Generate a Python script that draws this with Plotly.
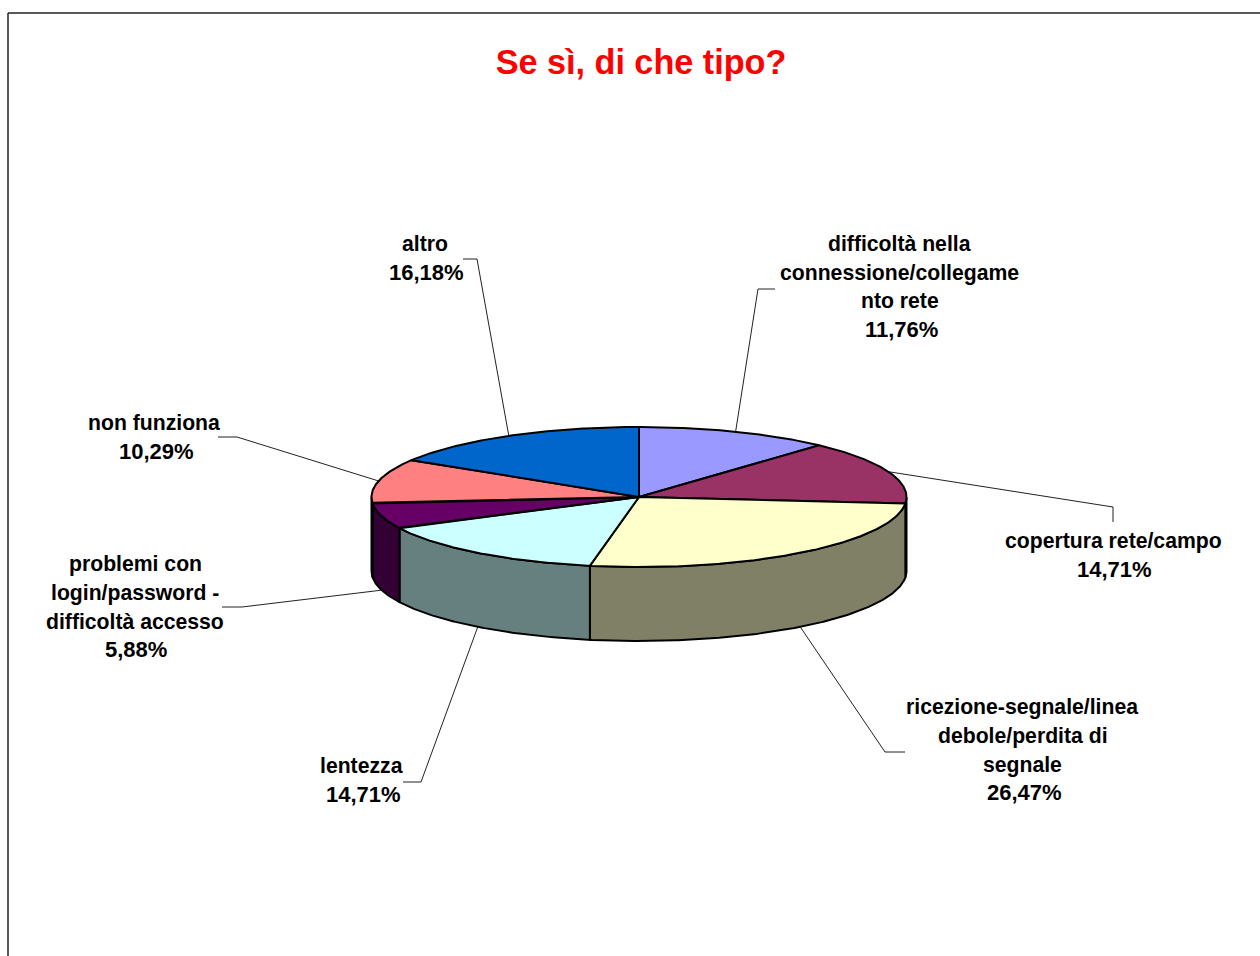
import math
import plotly.graph_objects as go

# --- data ---
title_text = "Se sì, di che tipo?"
categories = [
    ["difficoltà nella", "connessione/collegame", "nto rete"],
    ["copertura rete/campo"],
    ["ricezione-segnale/linea", "debole/perdita di", "segnale"],
    ["lentezza"],
    ["problemi con", "login/password -", "difficoltà accesso"],
    ["non funziona"],
    ["altro"],
]
values = [11.76, 14.71, 26.47, 14.71, 5.88, 10.29, 16.18]
top_colors = ["#9999FF", "#993366", "#FFFFCC", "#CCFFFF", "#660066", "#FF8080", "#0066CC"]
side_colors = ["#4D4D80", "#4D1A33", "#808066", "#668080", "#330033", "#804040", "#003366"]

# --- layout geometry (pixels) ---
W, H = 1260, 956
CX, CY, RX, RY, DEPTH = 639, 497, 267.5, 70, 74
FONT = "Liberation Sans, Arial, sans-serif"
# centre of each text line: (x per line, y per line, x of percent, y of percent)
label_pos = [
    ([899, 899, 900], [243.5, 272.5, 300.5], 901.5, 329.5),
    ([1113], [540.5], 1114.5, 569.5),
    ([1022, 1023, 1022], [706.5, 735.5, 764.5], 1024.5, 792.5),
    ([361], [765.5], 363.5, 794.5),
    ([135, 135, 134.5], [563.5, 592.5, 621.5], 135.5, 649.5),
    ([154], [422.5], 156.5, 451.5),
    ([425], [243.5], 426.5, 272.5),
]
# leader-line elbows: label end, elbow
leader_elbows = [
    ((775, 289), (758, 289)),
    ((1113, 522), (1113, 507)),
    ((905, 752), (885, 752)),
    ((403, 782), (421, 782)),
    ((222, 607), (242, 607)),
    ((218, 437), (237, 437)),
    ((463, 259), (477, 259)),
]


def pt(theta, drop=0):
    a = math.radians(theta)
    return CX + RX * math.sin(a), CY - RY * math.cos(a) + drop


def arc(t0, t1, drop=0):
    n = max(2, int(abs(t1 - t0) * 2))
    return [pt(t0 + (t1 - t0) * i / n, drop) for i in range(n + 1)]


total = sum(values)
edges = [0.0]
for v in values:
    edges.append(edges[-1] + v / total * 360)

fig = go.Figure()


def poly(points, fill):
    fig.add_trace(go.Scatter(
        x=[p[0] for p in points], y=[p[1] for p in points],
        mode="lines", fill="toself", fillcolor=fill,
        line=dict(color="#000000", width=2), hoverinfo="skip", showlegend=False,
    ))


# leader lines (behind the pie)
for i, (end, elbow) in enumerate(leader_elbows):
    mid = (edges[i] + edges[i + 1]) / 2
    drop = DEPTH if 90 < mid < 270 else 0
    s = pt(mid, drop)
    fig.add_trace(go.Scatter(
        x=[end[0], elbow[0], s[0]], y=[end[1], elbow[1], s[1]], mode="lines",
        line=dict(color="#222222", width=1), hoverinfo="skip", showlegend=False,
    ))

# side walls: only the front half of the rim is visible
for i in range(len(values)):
    t0, t1 = max(edges[i], 90), min(edges[i + 1], 270)
    if t1 > t0:
        poly(arc(t0, t1) + arc(t1, t0, DEPTH) + [pt(t0)], side_colors[i])

# top faces
for i in range(len(values)):
    poly([(CX, CY)] + arc(edges[i], edges[i + 1]) + [(CX, CY)], top_colors[i])

annotations = []


def text(x, y, s, size):
    annotations.append(dict(
        x=x, y=y, xref="x", yref="y", text=s, showarrow=False,
        xanchor="center", yanchor="middle",
        font=dict(family=FONT, size=size, color="#000000"),
    ))


for cat, val, (xs, ys, px, py) in zip(categories, values, label_pos):
    for s, x, y in zip(cat, xs, ys):
        text(x, y, f"<b>{s}</b>", 21.2)
    text(px, py, "<b>" + f"{val:.2f}".replace(".", ",") + "%</b>", 22)

fig.update_layout(
    width=W, height=H, margin=dict(l=0, r=0, t=0, b=0, pad=0),
    paper_bgcolor="#FFFFFF", plot_bgcolor="#FFFFFF", showlegend=False,
    autosize=False,
    title=dict(text=f"<b>{title_text}</b>", x=641 / W, y=1 - 62 / H, xanchor="center", yanchor="middle",
               xref="paper", yref="paper",
               font=dict(family=FONT, size=34.2, color="#FF0000")),
    xaxis=dict(range=[0, W], visible=False, fixedrange=True),
    yaxis=dict(range=[H, 0], visible=False, fixedrange=True),
    annotations=annotations,
    shapes=[
        dict(type="line", xref="x", yref="y", x0=8, y0=13, x1=W, y1=13, line=dict(color="#222222", width=1.5)),
        dict(type="line", xref="x", yref="y", x0=8, y0=13, x1=8, y1=H, line=dict(color="#222222", width=1.5)),
    ],
)
fig.write_html(
    "out.html",
    config=dict(displayModeBar=False),
    default_width=W,
    default_height=H,
    post_script="document.body.style.margin='0';document.documentElement.style.overflow='hidden';",
)
